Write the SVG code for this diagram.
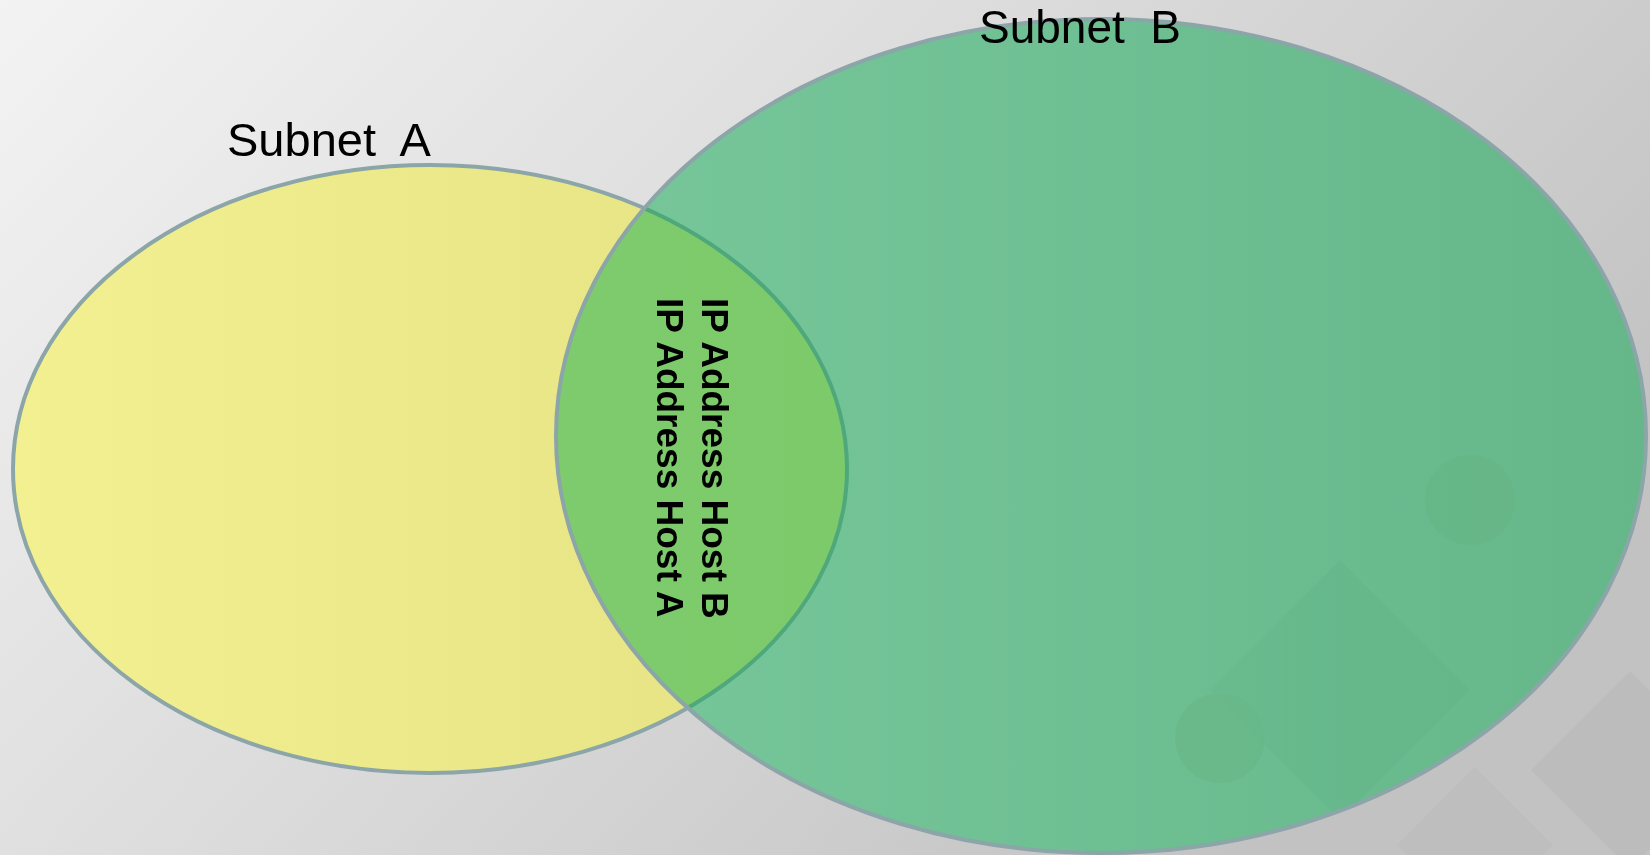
<svg xmlns="http://www.w3.org/2000/svg" width="1650" height="855" viewBox="0 0 1650 855">
<style>
.lbl{font-family:"Liberation Sans",Arial,sans-serif;fill:#000;white-space:pre}
.sub{font-size:47px}
.ip{font-size:37px;font-weight:bold}
.edge{fill:none;stroke:#8ba5a8;stroke-width:4}
</style>
<defs>
<linearGradient id="bg" x1="0" y1="0" x2="1" y2="0.5">
<stop offset="0" stop-color="#f3f3f3"/>
<stop offset="0.55" stop-color="#d9d9d9"/>
<stop offset="1" stop-color="#c2c2c2"/>
</linearGradient>
<linearGradient id="gy" x1="0" y1="0" x2="1" y2="0">
<stop offset="0" stop-color="#f2f091"/>
<stop offset="1" stop-color="#e4e283"/>
</linearGradient>
<linearGradient id="gg" x1="0" y1="0" x2="1" y2="0">
<stop offset="0" stop-color="#77c79b"/>
<stop offset="1" stop-color="#65b78a"/>
</linearGradient>
<linearGradient id="gl" x1="0" y1="0" x2="1" y2="0">
<stop offset="0" stop-color="#81ce72"/>
<stop offset="1" stop-color="#7cca6a"/>
</linearGradient>
<clipPath id="clipB"><ellipse cx="1101" cy="436" rx="545" ry="417"/></clipPath>
</defs>
<rect width="1650" height="855" fill="url(#bg)"/>
<g id="watermark" opacity="0.4">
<rect x="1560" y="700" width="140" height="140" transform="rotate(45 1630 770)" fill="#b4b4b4"/>
<rect x="1420" y="790" width="110" height="110" transform="rotate(45 1475 845)" fill="#b8b8b8"/>
</g>
<g id="subnet-a">
<ellipse cx="430" cy="469" rx="417" ry="304" class="edge" style="fill:url(#gy)"/>
</g>
<g id="subnet-b">
<ellipse cx="1101" cy="436" rx="545" ry="417" style="fill:url(#gg);stroke:none"/>
<g clip-path="url(#clipB)" opacity="0.3">
<circle cx="1470" cy="500" r="45" fill="#64b07e"/>
<circle cx="1220" cy="738" r="45" fill="#64b07e"/>
<path d="M1340 560 L1470 690 L1340 820 L1210 690 Z" fill="#5aab80" opacity="0.5"/>
</g>
</g>
<g id="overlap">
<g clip-path="url(#clipB)">
<ellipse cx="430" cy="469" rx="417" ry="304" fill="url(#gl)"/>
<ellipse cx="430" cy="469" rx="417" ry="304" fill="none" stroke="#4ea87c" stroke-width="4"/>
</g>
</g>
<ellipse cx="1101" cy="436" rx="545" ry="417" class="edge"/>
<g id="connectors"/>
<g id="labels">
<text class="lbl sub" x="227" y="156">Subnet  A</text>
<text class="lbl sub" x="979" y="43" style="font-size:46px">Subnet  B</text>
<text class="lbl ip" transform="translate(702,298) rotate(90)">IP Address Host B</text>
<text class="lbl ip" transform="translate(657,298) rotate(90)">IP Address Host A</text>
</g>
</svg>
